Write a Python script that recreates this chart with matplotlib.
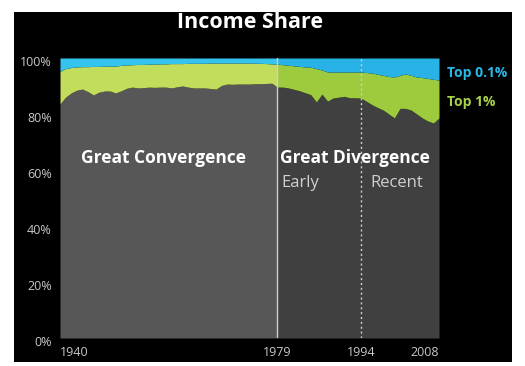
import matplotlib
matplotlib.use("Agg")
import matplotlib.pyplot as plt
from matplotlib.transforms import ScaledTranslation
import numpy as np

plt.rcParams['font.family'] = ['Open Sans', 'DejaVu Sans']

years = list(range(1940, 2009))
bottom99 = [83.6, 86.0, 87.5, 88.5, 88.9, 88.0, 86.8, 87.8, 88.2, 88.2,
            87.5, 88.3, 89.2, 89.6, 89.3, 89.4, 89.6, 89.5, 89.6, 89.6,
            89.3, 89.7, 90.0, 89.6, 89.3, 89.3, 89.3, 89.1, 88.9, 90.2,
            90.7, 90.6, 90.7, 90.7, 90.7, 90.8, 90.8, 90.9, 91.0, 89.6,
            89.6, 89.3, 88.8, 88.3, 87.6, 86.9, 84.3, 87.1, 84.6, 85.7,
            86.0, 86.3, 85.8, 85.8, 85.7, 84.5, 83.3, 82.3, 81.4, 80.0,
            78.6, 82.0, 82.0, 81.4, 80.0, 78.6, 77.5, 76.8, 78.6]
top01 = [4.8, 3.8, 3.4, 3.2, 3.1, 3.1, 3.0, 3.0, 2.9, 2.9,
         2.9, 2.6, 2.5, 2.4, 2.3, 2.3, 2.2, 2.2, 2.1, 2.1,
         2.0, 2.0, 2.0, 1.9, 1.9, 1.9, 1.9, 1.8, 1.8, 1.8,
         1.8, 1.8, 1.8, 1.8, 1.8, 1.9, 1.9, 2.0, 2.1, 2.2,
         2.4, 2.6, 2.8, 3.0, 3.2, 3.3, 3.8, 4.3, 5.0, 5.0,
         5.0, 5.0, 5.0, 5.0, 5.0, 5.2, 5.4, 5.8, 6.2, 6.6,
         6.8, 6.2, 5.7, 6.2, 6.8, 7.0, 7.3, 7.6, 7.9]
yticks = [0, 20, 40, 60, 80, 100]
ytick_labels = ['0%', '20%', '40%', '60%', '80%', '100%']
xticks = [1940, 1979, 1994, 2008]
split_year = 1979

b = np.array(bottom99)
t = 100 - np.array(top01)
x = np.array(years)

fig = plt.figure(figsize=(5.25, 3.66), dpi=100, facecolor='white')
bg = fig.add_axes([14/525, 1-362/366, (512-14)/525, (362-12)/366], zorder=0)
bg.set_facecolor('black')
bg.set_xticks([])
bg.set_yticks([])
for s in bg.spines.values():
    s.set_visible(False)

ax = fig.add_axes([60/525, 1-338/366, 379/525, 280/366], zorder=1)
ax.set_facecolor('black')
left = x <= split_year
right = x >= split_year
for mask, cg, cgr, cb in [(left, '#575757', '#c2dc5c', '#35c4ee'),
                          (right, '#404040', '#9dcb3d', '#28b2e5')]:
    ax.fill_between(x, 0, b, where=mask, color=cg, lw=0)
    ax.fill_between(x, b, t, where=mask, color=cgr, lw=0)
    ax.fill_between(x, t, 100, where=mask, color=cb, lw=0)
ax.axvline(1979, color='#cfcfcf', lw=1.0)
ax.axvline(1994, color='#cfcfcf', lw=1.0, ls=(0, (1.5, 2)))

ax.set_xlim(1940, 2008)
ax.set_ylim(0, 100)
for s in ax.spines.values():
    s.set_visible(False)
ax.set_yticks(yticks)
ax.set_yticklabels(ytick_labels)
ax.set_xticks(xticks)
ax.set_xticklabels([str(v) for v in xticks])
ax.tick_params(length=0, colors='#c8c8c8', labelsize=9)
ax.tick_params(axis='y', pad=6)
ax.tick_params(axis='x', pad=6)
off = ScaledTranslation(0, -3/100, fig.dpi_scale_trans)
for lbl in ax.get_yticklabels():
    lbl.set_transform(lbl.get_transform() + off)
xl = ax.get_xticklabels()
xl[0].set_ha('left')
xl[-1].set_ha('right')

ax.text(1958.5, 64.3, 'Great Convergence', color='white', fontsize=12.5,
        fontweight='bold', ha='center', va='center')
ax.text(1979.5, 64.3, 'Great Divergence', color='white', fontsize=12.5,
        fontweight='bold', ha='left', va='center')
ax.text(1979.7, 55.3, 'Early', color='#d0d0d0', fontsize=12, ha='left', va='center')
ax.text(1995.7, 55.3, 'Recent', color='#d0d0d0', fontsize=12, ha='left', va='center')

fig.text(447/525, 1-73/366, 'Top 0.1%', color='#2ab8e8', fontsize=10,
         fontweight='bold', ha='left', va='center')
fig.text(447/525, 1-102/366, 'Top 1%', color='#a8d048', fontsize=10,
         fontweight='bold', ha='left', va='center')
fig.text(250/525, 1-23/366, 'Income Share', color='white', fontsize=15.5,
         fontweight='bold', ha='center', va='center')

fig.savefig('out.png', dpi=100, facecolor='white')
